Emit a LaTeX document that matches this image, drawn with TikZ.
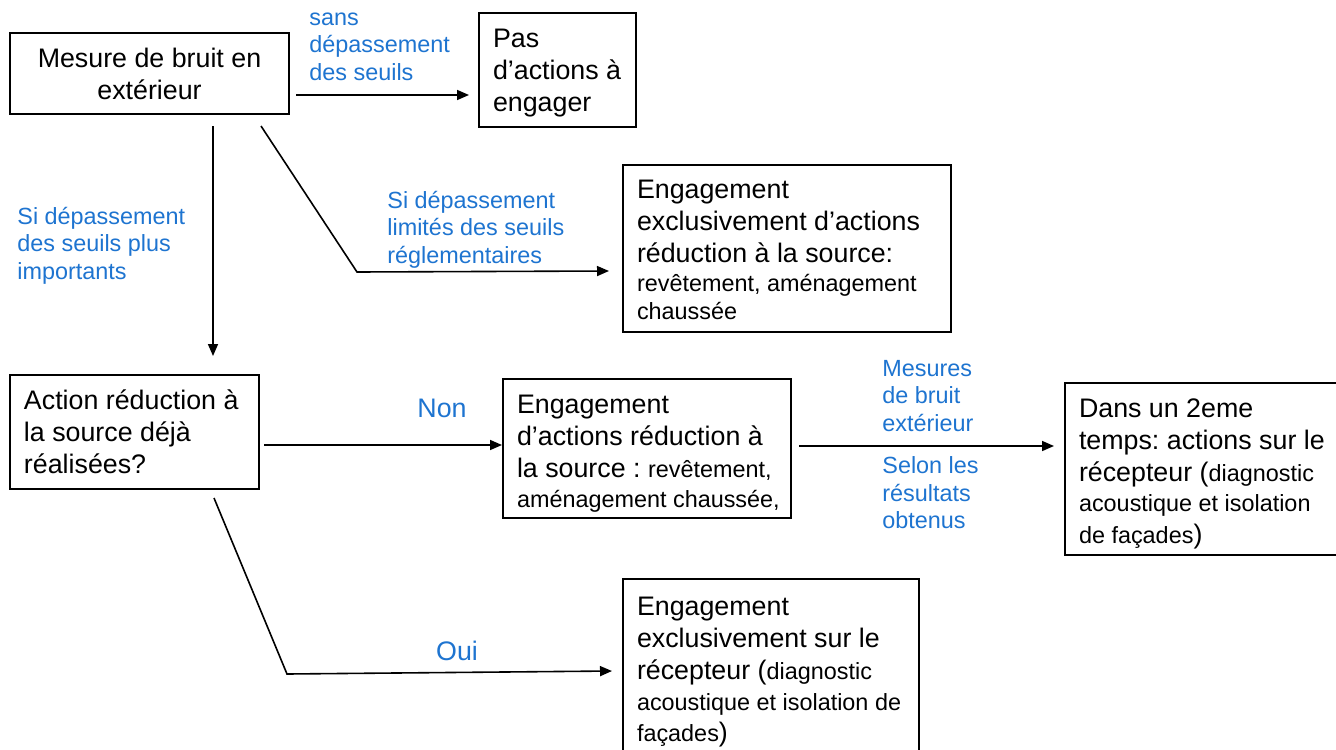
\documentclass[tikz,border=0pt]{standalone}
\usepackage{fontspec}
\setmainfont{Liberation Sans}
\usepackage{xcolor}
\usepackage{tikz}
\usetikzlibrary{arrows.meta,calc}
\frenchspacing
\definecolor{noiseBlue}{HTML}{1E74D0}
\definecolor{noiseInk}{HTML}{000000}
\newcommand{\mainsize}{\fontsize{13.4}{16}\selectfont}
\newcommand{\smallsize}{\fontsize{11.7}{16}\selectfont}
\tikzset{
  process/.style={
    rectangle,
    draw=noiseInk,
    line width=1pt,
    inner xsep=2pt,
    inner ysep=0pt,
    align=flush center,
    font=\mainsize
  },
  processLeft/.style={
    process,
    align=flush left,
    execute at begin node={\leftskip=5pt}
  },
  branchText/.style={
    anchor=west,
    inner sep=0pt,
    align=left,
    text=noiseBlue,
    font=\fontsize{11.7}{13.75}\selectfont
  },
  branchTextBig/.style={
    inner sep=0pt,
    text=noiseBlue,
    font=\mainsize
  },
  arrow/.style={
    -{Triangle[length=6pt,width=5pt]},
    line width=0.8pt,
    draw=noiseInk
  }
}

\begin{document}
\begin{tikzpicture}[x=0.5pt,y=-0.5pt]
  \useasboundingbox (0,0) rectangle (1336,749);
  \node[process,minimum width=139.5pt,minimum height=40.5pt,text width=135.5pt] (mesure) at (149.5,73.5) {Mesure de bruit en\\extérieur};
  \node[processLeft,minimum width=78.5pt,minimum height=57pt,text width=74.5pt] (pas) at (557.5,70) {\rule{0pt}{12.7pt}Pas\\d’actions à\\engager};
  \node[processLeft,minimum width=164pt,minimum height=83.5pt,text width=160pt] (exclSource) at (787,248.5) {\rule{0pt}{11pt}Engagement\\exclusivement d’actions\\réduction à la source:\\[-1.5pt]{\smallsize revêtement, aménagement}\\[-2pt]{\smallsize chaussée}};
  \node[processLeft,minimum width=124.5pt,minimum height=57pt,text width=120.5pt] (action) at (134.5,432) {Action réduction à\\la source déjà\\réalisées?};
  \node[processLeft,minimum width=144pt,minimum height=69.5pt,text width=140pt] (engSource) at (647,448.5) {\rule{0pt}{14.5pt}Engagement\\d’actions réduction à\\la source : {\smallsize revêtement,}\\[-1pt]{\smallsize aménagement chaussée,}};
  \node[processLeft,minimum width=137.5pt,minimum height=86pt,text width=133.5pt] (recepteur) at (1202.5,469) {\rule{0pt}{14.5pt}Dans un 2eme\\temps: actions sur le\\récepteur ({\smallsize diagnostic}\\[-1pt]{\smallsize acoustique et isolation}\\{\smallsize de façades})};
  \node[processLeft,minimum width=148pt,minimum height=93pt,text width=144pt] (exclRecepteur) at (771,672) {Engagement\\exclusivement sur le\\récepteur ({\smallsize diagnostic}\\[-0.5pt]{\smallsize acoustique et isolation de}\\[-0.5pt]{\smallsize façades})};
  \draw[arrow] ($(mesure.east)+(6,21.5)$) -- ($(pas.west)+(-9,25)$);
  \draw[arrow] ($(mesure.south)+(63.5,11)$) -- ($(action.north)+(78.5,-18)$);
  \draw[arrow] ($(mesure.south)+(111.5,11)$) -- ++(96,146) -- ($(exclSource.west)+(-13,22.5)$);
  \draw[arrow] ($(action.east)+(4,13)$) -- ($(engSource.west)+(0,-3.5)$);
  \draw[arrow] ($(action.south)+(79.5,8)$) -- ++(73,176) -- ($(exclRecepteur.west)+(-10,-1)$);
  \draw[arrow] ($(engSource.east)+(7,-2.5)$) -- ($(recepteur.west)+(-10,-23)$);
  \node[branchText] (sansSeuil) at (309,46.5) {sans\\dépassement\\des seuils};
  \node[branchText] (seuilPlus) at (17,245.5) {Si dépassement\\des seuils plus\\importants};
  \node[branchText] (seuilLimite) at (387,229.5) {Si dépassement\\limités des seuils\\réglementaires};
  \node[branchTextBig] (non) at (442,408) {Non};
  \node[branchTextBig] (oui) at (457,651) {Oui};
  \node[branchText] (mesuresExt) at (882,396) {Mesures\\de bruit\\extérieur};
  \node[branchText] (selonRes) at (882,493) {Selon les\\résultats\\obtenus};
\end{tikzpicture}
\end{document}
